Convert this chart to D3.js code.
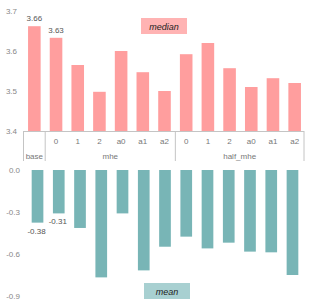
<!DOCTYPE html>
<html>
<head>
<meta charset="utf-8">
<script src="https://cdn.jsdelivr.net/npm/d3@7"></script>
<style>
  body { margin: 0; background: #fff; }
  text { font-family: "Liberation Sans", Arial, sans-serif; }
</style>
</head>
<body>
<script>
// -------------------- DATA --------------------
var groups = ["base", "mhe", "mhe", "mhe", "mhe", "mhe", "mhe",
              "half_mhe", "half_mhe", "half_mhe", "half_mhe", "half_mhe", "half_mhe"];
var subs = ["", "0", "1", "2", "a0", "a1", "a2", "0", "1", "2", "a0", "a1", "a2"];
var median = [3.662, 3.633, 3.565, 3.498, 3.60, 3.547, 3.50, 3.592, 3.62, 3.557, 3.51, 3.532, 3.52];
var mean = [-0.376, -0.31, -0.414, -0.767, -0.31, -0.717, -0.548, -0.476, -0.56, -0.519, -0.583, -0.588, -0.75];
var medianTicks = [3.4, 3.5, 3.6, 3.7];
var meanTicks = [0.0, -0.3, -0.6, -0.9];
var groupNames = ["base", "mhe", "half_mhe"];

var W = 312, H = 307;
var pink = "#ff9e9e", teal = "#78b5b6";
var idx = d3.range(median.length);

var svg = d3.select("body").append("svg")
  .attr("width", W).attr("height", H);

// -------------------- TOP: median --------------------
var xTop = d3.scaleBand().domain(idx).range([23.5, 305.5]).paddingInner(0.42).paddingOuter(0.21);
var yTop = d3.scaleLinear().domain([3.4, 3.7]).range([131, 11]);

svg.append("g").selectAll("text")
  .data(medianTicks).enter().append("text")
  .attr("x", 17).attr("y", function(d){ return yTop(d) + 3; })
  .attr("text-anchor", "end").attr("font-size", 8).attr("fill", "#888")
  .text(function(d){ return d.toFixed(1); });

svg.append("g").selectAll("rect")
  .data(median).enter().append("rect")
  .attr("x", function(d, i){ return xTop(i); })
  .attr("width", xTop.bandwidth())
  .attr("y", function(d){ return yTop(d); })
  .attr("height", function(d){ return yTop(3.4) - yTop(d); })
  .attr("fill", pink);

// value labels on first two bars
[0, 1].forEach(function(i){
  svg.append("text")
    .attr("x", xTop(i) + xTop.bandwidth() / 2)
    .attr("y", yTop(median[i]) - 5)
    .attr("text-anchor", "middle").attr("font-size", 8).attr("fill", "#555")
    .text(median[i].toFixed(2));
});

// legend box "median"
svg.append("rect").attr("x", 141).attr("y", 18).attr("width", 46).attr("height", 16).attr("fill", "#ffb3b3");
svg.append("text").attr("x", 164).attr("y", 29.5).attr("text-anchor", "middle")
  .attr("font-size", 9).attr("font-style", "italic").attr("fill", "#222").text("median");

// -------------------- GROUPED X AXIS --------------------
var gx = svg.append("g").attr("stroke", "#c4c4c4").attr("fill", "none");
var bounds = [0, 1, 7, 13].map(function(i){
  return i < median.length ? xTop(i) - xTop.step() * xTop.paddingInner() / 2 : xTop.range()[1] - 1.5;
});
bounds[0] = xTop.range()[0];
gx.append("line").attr("x1", bounds[0]).attr("x2", bounds[3]).attr("y1", 131.5).attr("y2", 131.5);
bounds.forEach(function(b){
  gx.append("line").attr("x1", b).attr("x2", b).attr("y1", 131).attr("y2", 161);
});

svg.append("g").selectAll("text")
  .data(subs).enter().append("text")
  .attr("x", function(d, i){ return xTop(i) + xTop.bandwidth() / 2; })
  .attr("y", 144)
  .attr("text-anchor", "middle").attr("font-size", 8).attr("fill", "#777")
  .text(function(d){ return d; });

groupNames.forEach(function(g, k){
  svg.append("text")
    .attr("x", (bounds[k] + bounds[k + 1]) / 2).attr("y", 159)
    .attr("text-anchor", "middle").attr("font-size", 8).attr("fill", "#777")
    .text(g);
});

// -------------------- BOTTOM: mean --------------------
var xBot = d3.scaleBand().domain(idx).range([27, 303]).paddingInner(0.45).paddingOuter(0.22);
var yBot = d3.scaleLinear().domain([0, -0.9]).range([170, 296]);

svg.append("g").selectAll("text")
  .data(meanTicks).enter().append("text")
  .attr("x", 20).attr("y", function(d){ return yBot(d) + 3; })
  .attr("text-anchor", "end").attr("font-size", 8).attr("fill", "#888")
  .text(function(d){ return d.toFixed(1); });

svg.append("g").selectAll("rect")
  .data(mean).enter().append("rect")
  .attr("x", function(d, i){ return xBot(i); })
  .attr("width", xBot.bandwidth())
  .attr("y", yBot(0))
  .attr("height", function(d){ return yBot(d) - yBot(0); })
  .attr("fill", teal);

[0, 1].forEach(function(i){
  svg.append("text")
    .attr("x", xBot(i) + xBot.bandwidth() / 2 - 1)
    .attr("y", yBot(mean[i]) + 11)
    .attr("text-anchor", "middle").attr("font-size", 8).attr("fill", "#555")
    .text(mean[i].toFixed(2));
});

svg.append("rect").attr("x", 144).attr("y", 283).attr("width", 46).attr("height", 16).attr("fill", "#a8d0d1");
svg.append("text").attr("x", 167).attr("y", 294.5).attr("text-anchor", "middle")
  .attr("font-size", 9).attr("font-style", "italic").attr("fill", "#222").text("mean");
</script>
</body>
</html>
